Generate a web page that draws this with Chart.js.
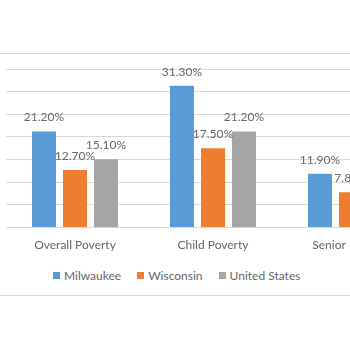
<!DOCTYPE html>
<html>
<head>
<meta charset="utf-8">
<script src="https://cdn.jsdelivr.net/npm/chart.js@4"></script>
<style>
  body { margin: 0; width: 350px; height: 350px; overflow: hidden; background: #fff; }
  #frame {
    position: absolute; left: 0; top: 53px; width: 350px; height: 241px;
    border-top: 1px solid #d9d9d9; border-bottom: 1px solid #d9d9d9; overflow: hidden;
  }
  #plot { position: absolute; left: 0; top: 0; width: 430px; height: 203px; }
  #legend {
    position: absolute; left: 53px; top: 214px; display: flex; align-items: center;
    font: 12px Lato, sans-serif; color: #666; white-space: nowrap;
  }
  #legend span.item { display: flex; align-items: center; margin-right: 16px; }
  #legend i { display: inline-block; width: 7px; height: 7px; margin-right: 4px; }
</style>
</head>
<body>
<div id="frame">
  <div id="plot"><canvas id="c"></canvas></div>
  <div id="legend"></div>
</div>
<script>
'use strict';

const CATEGORIES = ['Overall Poverty', 'Child Poverty', 'Senior Poverty'];
const MILWAUKEE  = [21.2, 31.3, 11.9];
const WISCONSIN  = [12.7, 17.5, 7.8];
const US         = [15.1, 21.2, 9.3];
const SERIES     = ['Milwaukee', 'Wisconsin', 'United States'];

const COLORS = ['#5b9bd5', '#ed7d31', '#a5a5a5'];
const TEXT = '#666666';

/* ── value labels above each bar ───────────────────────── */
const barLabels = {
  id: 'barLabels',
  afterDatasetsDraw(chart) {
    const ctx = chart.ctx;
    ctx.save();
    ctx.font = '12px Lato, sans-serif';
    ctx.fillStyle = TEXT;
    ctx.textAlign = 'center';
    ctx.textBaseline = 'middle';
    chart.data.datasets.forEach((ds, i) => {
      chart.getDatasetMeta(i).data.forEach((bar, j) => {
        ctx.fillText(ds.data[j].toFixed(2) + '%', bar.x, bar.y - 14);
      });
    });
    ctx.restore();
  },
};

new Chart(document.getElementById('c'), {
  type: 'bar',
  data: {
    labels: CATEGORIES,
    datasets: [MILWAUKEE, WISCONSIN, US].map((d, i) => ({
      label: SERIES[i],
      data: d,
      backgroundColor: COLORS[i],
      barPercentage: 0.774,
      categoryPercentage: 0.674,
    })),
  },
  options: {
    responsive: true,
    maintainAspectRatio: false,
    animation: false,
    layout: { padding: { left: 6, right: 10, top: 15, bottom: 3 } },
    plugins: {
      legend: { display: false },
      tooltip: { enabled: false },
    },
    scales: {
      x: {
        grid: { display: false },
        border: { display: false },
        ticks: { color: TEXT, font: { family: 'Lato', size: 12 }, padding: 2, maxRotation: 0 },
      },
      y: {
        min: 0,
        max: 35,
        ticks: { display: false, stepSize: 5 },
        border: { display: false },
        grid: { color: '#d9d9d9', drawTicks: false },
      },
    },
  },
  plugins: [barLabels],
});

// html legend
const legend = document.getElementById('legend');
SERIES.forEach((name, i) => {
  const item = document.createElement('span');
  item.className = 'item';
  item.innerHTML = `<i style="background:${COLORS[i]}"></i>${name}`;
  legend.appendChild(item);
});
</script>
</body>
</html>
